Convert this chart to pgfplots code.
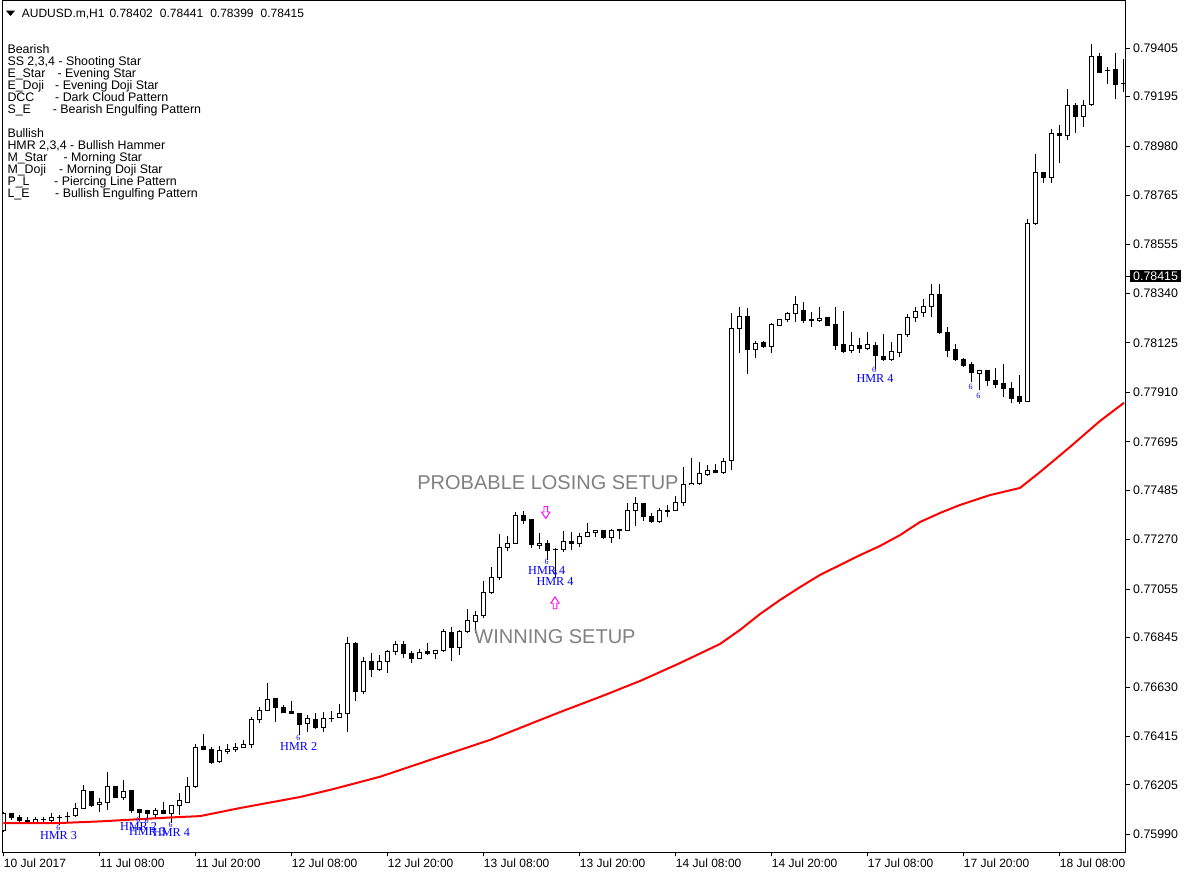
\documentclass[border=0pt]{standalone}
\usepackage{pgfplots}
\usepackage{pgfplotstable}
\pgfplotsset{compat=1.18}
\usepackage{fontspec}
\setmainfont{Liberation Sans}
\newfontfamily\serifhmr{Liberation Serif}
\definecolor{hmrblue}{RGB}{0,0,255}
\definecolor{arrpink}{RGB}{255,0,255}
\definecolor{setgray}{RGB}{128,128,128}
\definecolor{mared}{RGB}{255,0,0}

\pgfplotstableread{
x o h l c
0 0.76006 0.76087 0.76000 0.76079
1 0.76082 0.76082 0.76053 0.76065
2 0.76065 0.76075 0.76039 0.76050
3 0.76050 0.76065 0.76039 0.76040
4 0.76040 0.76065 0.76039 0.76056
5 0.76054 0.76065 0.76041 0.76056
6 0.76052 0.76082 0.76039 0.76065
7 0.76063 0.76075 0.76032 0.76065
8 0.76066 0.76089 0.76039 0.76068
9 0.76070 0.76125 0.76067 0.76103
10 0.76103 0.76205 0.76103 0.76180
11 0.76176 0.76179 0.76110 0.76115
12 0.76118 0.76146 0.76089 0.76127
13 0.76127 0.76262 0.76096 0.76197
14 0.76197 0.76200 0.76151 0.76151
15 0.76151 0.76226 0.76139 0.76176
16 0.76179 0.76179 0.76082 0.76093
17 0.76096 0.76099 0.76053 0.76084
18 0.76093 0.76093 0.76060 0.76079
19 0.76075 0.76103 0.76060 0.76092
20 0.76092 0.76132 0.76078 0.76079
21 0.76079 0.76113 0.76039 0.76113
22 0.76113 0.76169 0.76075 0.76136
23 0.76129 0.76240 0.76129 0.76197
24 0.76197 0.76383 0.76192 0.76369
25 0.76371 0.76425 0.76359 0.76359
26 0.76359 0.76371 0.76296 0.76301
27 0.76306 0.76374 0.76299 0.76352
28 0.76349 0.76382 0.76338 0.76360
29 0.76359 0.76386 0.76346 0.76369
30 0.76369 0.76400 0.76369 0.76379
31 0.76382 0.76501 0.76363 0.76487
32 0.76487 0.76544 0.76475 0.76530
33 0.76530 0.76646 0.76530 0.76577
34 0.76581 0.76584 0.76480 0.76542
35 0.76543 0.76552 0.76516 0.76518
36 0.76523 0.76569 0.76513 0.76516
37 0.76516 0.76518 0.76422 0.76468
38 0.76473 0.76509 0.76436 0.76494
39 0.76490 0.76516 0.76446 0.76453
40 0.76455 0.76523 0.76436 0.76494
41 0.76491 0.76526 0.76480 0.76494
42 0.76497 0.76555 0.76494 0.76516
43 0.76516 0.76848 0.76436 0.76817
44 0.76817 0.76827 0.76571 0.76610
45 0.76610 0.76760 0.76598 0.76740
46 0.76741 0.76779 0.76675 0.76707
47 0.76704 0.76769 0.76701 0.76740
48 0.76740 0.76790 0.76692 0.76783
49 0.76783 0.76829 0.76769 0.76815
50 0.76815 0.76829 0.76757 0.76776
51 0.76776 0.76787 0.76735 0.76754
52 0.76754 0.76793 0.76753 0.76780
53 0.76786 0.76823 0.76769 0.76774
54 0.76774 0.76790 0.76753 0.76789
55 0.76787 0.76884 0.76783 0.76870
56 0.76867 0.76889 0.76744 0.76802
57 0.76802 0.76877 0.76769 0.76873
58 0.76873 0.76967 0.76863 0.76917
59 0.76916 0.76959 0.76863 0.76940
60 0.76940 0.77090 0.76932 0.77041
61 0.77041 0.77150 0.77033 0.77107
62 0.77107 0.77294 0.77095 0.77237
63 0.77237 0.77287 0.77222 0.77254
64 0.77254 0.77391 0.77254 0.77375
65 0.77375 0.77394 0.77337 0.77352
66 0.77359 0.77362 0.77235 0.77250
67 0.77245 0.77300 0.77228 0.77254
68 0.77254 0.77268 0.77182 0.77222
69 0.77226 0.77232 0.77103 0.77229
70 0.77228 0.77308 0.77218 0.77261
71 0.77264 0.77305 0.77225 0.77254
72 0.77254 0.77298 0.77239 0.77283
73 0.77283 0.77341 0.77281 0.77302
74 0.77300 0.77309 0.77281 0.77308
75 0.77312 0.77312 0.77271 0.77279
76 0.77279 0.77315 0.77256 0.77312
77 0.77315 0.77315 0.77271 0.77309
78 0.77309 0.77428 0.77309 0.77395
79 0.77396 0.77454 0.77329 0.77428
80 0.77428 0.77430 0.77352 0.77369
81 0.77372 0.77385 0.77343 0.77348
82 0.77348 0.77406 0.77341 0.77395
83 0.77399 0.77421 0.77367 0.77393
84 0.77396 0.77459 0.77395 0.77432
85 0.77432 0.77587 0.77418 0.77508
86 0.77508 0.77623 0.77506 0.77515
87 0.77515 0.77606 0.77508 0.77558
88 0.77554 0.77595 0.77548 0.77569
89 0.77569 0.77598 0.77558 0.77560
90 0.77560 0.77623 0.77555 0.77609
91 0.77616 0.78254 0.77575 0.78189
92 0.78189 0.78280 0.78080 0.78239
93 0.78239 0.78275 0.77990 0.78098
94 0.78098 0.78134 0.78058 0.78124
95 0.78125 0.78134 0.78105 0.78109
96 0.78109 0.78211 0.78080 0.78204
97 0.78201 0.78229 0.78199 0.78225
98 0.78225 0.78261 0.78218 0.78254
99 0.78254 0.78329 0.78218 0.78294
100 0.78268 0.78302 0.78213 0.78222
101 0.78222 0.78258 0.78194 0.78225
102 0.78222 0.78280 0.78218 0.78232
103 0.78237 0.78239 0.78199 0.78201
104 0.78204 0.78280 0.78095 0.78114
105 0.78117 0.78264 0.78080 0.78088
106 0.78092 0.78174 0.78080 0.78115
107 0.78114 0.78145 0.78083 0.78101
108 0.78101 0.78174 0.78095 0.78120
109 0.78114 0.78131 0.78012 0.78071
110 0.78068 0.78164 0.78048 0.78054
111 0.78054 0.78131 0.78047 0.78088
112 0.78082 0.78164 0.78063 0.78163
113 0.78163 0.78250 0.78152 0.78237
114 0.78237 0.78280 0.78215 0.78261
115 0.78258 0.78314 0.78237 0.78285
116 0.78285 0.78380 0.78237 0.78337
117 0.78337 0.78380 0.78163 0.78171
118 0.78171 0.78194 0.78063 0.78092
119 0.78095 0.78121 0.78048 0.78054
120 0.78055 0.78058 0.78022 0.78027
121 0.78030 0.78041 0.77954 0.77996
122 0.77994 0.78004 0.77921 0.78004
123 0.78004 0.78004 0.77940 0.77961
124 0.77960 0.78015 0.77931 0.77943
125 0.77947 0.78034 0.77892 0.77927
126 0.77928 0.77954 0.77862 0.77884
127 0.77891 0.77987 0.77858 0.77869
128 0.77870 0.78662 0.77867 0.78645
129 0.78645 0.78946 0.78638 0.78866
130 0.78866 0.78866 0.78821 0.78845
131 0.78845 0.79054 0.78821 0.79036
132 0.79036 0.79072 0.78906 0.79026
133 0.79026 0.79228 0.79007 0.79156
134 0.79156 0.79168 0.79036 0.79108
135 0.79108 0.79180 0.79064 0.79156
136 0.79163 0.79423 0.79156 0.79368
137 0.79368 0.79387 0.79301 0.79301
138 0.79307 0.79325 0.79249 0.79309
139 0.79314 0.79387 0.79187 0.79249
140 0.79253 0.79361 0.79217 0.79251
}\candles

\pgfplotstableread{
x p
0 0.76038
7.09 0.76039
12.09 0.76046
16.21 0.76054
20.84 0.76063
24.59 0.76069
29.59 0.76104
37.09 0.76152
41.09 0.76185
47.09 0.76240
53.34 0.76313
60.84 0.76400
64.59 0.76452
69.59 0.76521
74.59 0.76587
79.59 0.76656
84.59 0.76734
89.59 0.76817
92.09 0.76878
94.59 0.76947
97.09 0.77008
99.59 0.77064
102.09 0.77117
104.59 0.77160
107.09 0.77203
109.59 0.77243
112.09 0.77290
114.59 0.77347
117.09 0.77386
119.59 0.77421
123.34 0.77464
127.09 0.77495
129.59 0.77564
133.34 0.77673
137.09 0.77786
140.09 0.77865
}\ma

\begin{document}
\begin{tikzpicture}[x=1pt,y=1pt]
\useasboundingbox (0,0) rectangle (1186,876);
\begin{axis}[
  at={(2.5pt,24pt)}, anchor=south west,
  scale only axis, width=1123.5pt, height=851pt,
  xmin=-0.1, xmax=140.34,
  ymin=0.75913, ymax=0.79611,
  axis line style={line width=1pt, black},
  tick align=outside,
  xtick pos=left, ytick pos=right,
  xticklabel pos=left, yticklabel pos=right,
  major tick length=4pt,
  tick style={line width=1pt, black},
  xtick={0,12,24,36,48,60,72,84,96,108,120,132},
  xticklabels={10 Jul 2017, 11 Jul 08:00, 11 Jul 20:00, 12 Jul 08:00, 12 Jul 20:00, 13 Jul 08:00, 13 Jul 20:00, 14 Jul 08:00, 14 Jul 20:00, 17 Jul 08:00, 17 Jul 20:00, 18 Jul 08:00},
  ytick={0.79405,0.79195,0.78980,0.78765,0.78555,0.78340,0.78125,0.77910,0.77695,0.77485,0.77270,0.77055,0.76845,0.76630,0.76415,0.76205,0.75990},
  yticklabels={0.79405,0.79195,0.78980,0.78765,0.78555,0.78340,0.78125,0.77910,0.77695,0.77485,0.77270,0.77055,0.76845,0.76630,0.76415,0.76205,0.75990},
  extra y ticks={0.78415},
  extra y tick labels={0.78415},
  extra y tick style={yticklabel style={fill=black, text=white}},
  scaled y ticks=false,
  xticklabel style={anchor=north west, inner xsep=0.5pt, inner ysep=3pt, font=\fontsize{12}{14}\selectfont},
  yticklabel style={anchor=west, inner xsep=3pt, inner ysep=1.4pt, font=\fontsize{12.4}{14}\selectfont},
]
% wicks
\addplot[draw=none, mark=none, forget plot,
  error bars/.cd, y dir=plus, y explicit, error mark=none,
  error bar style={draw=black, line width=1pt}]
  table[x=x, y=l, y error plus expr={\thisrow{h}-\thisrow{l}}] {\candles};
% bodies (black outer)
\addplot[draw=none, mark=none, forget plot,
  error bars/.cd, y dir=plus, y explicit, error mark=none,
  error bar style={draw=black, line width=4.6pt, line cap=butt}]
  table[x=x, y expr={min(\thisrow{o},\thisrow{c})-0.0000217},
        y error plus expr={abs(\thisrow{c}-\thisrow{o})+0.0000434}] {\candles};
% white interior of bullish bodies
\addplot[draw=none, mark=none, forget plot,
  error bars/.cd, y dir=plus, y explicit, error mark=none,
  error bar style={draw=white, line width=2.6pt, line cap=butt}]
  table[x=x, y expr={\thisrow{o}+0.0000217},
        y error plus expr={max(0,\thisrow{c}-\thisrow{o}-0.0000434)}] {\candles};
% moving average
\addplot[mared, line width=2pt, mark=none] table[x=x, y=p] {\ma};
\end{axis}

% title
\fill[black] (6,865.3) -- (15,865.3) -- (10.5,860) -- cycle;
\begin{scope}[every node/.style={inner sep=0pt, anchor=base west, font=\fontsize{12}{14}\selectfont}]
\node at (21.7,858.7) {AUDUSD.m,H1};
\node at (109.3,858.7) {0.78402};
\node at (159.7,858.7) {0.78441};
\node at (210.1,858.7) {0.78399};
\node at (260.5,858.7) {0.78415};
\end{scope}

% legend text
\begin{scope}[every node/.style={inner sep=0pt, anchor=base west, font=\fontsize{12.4}{14}\selectfont}]
\node at (7.3,822) {Bearish};
\node at (7.3,810) {SS 2,3,4 - Shooting Star};
\node at (7.3,798) {E\_Star};   \node at (57.3,798) {- Evening Star};
\node at (7.3,786) {E\_Doji};   \node at (55,786) {- Evening Doji Star};
\node at (7.3,774) {DCC};       \node at (55,774) {- Dark Cloud Pattern};
\node at (7.3,762) {S\_E};      \node at (52.7,762) {- Bearish Engulfing Pattern};
\node at (7.3,738) {Bullish};
\node at (7.3,726) {HMR 2,3,4 - Bullish Hammer};
\node at (7.3,714) {M\_Star};   \node at (63.3,714) {- Morning Star};
\node at (7.3,702) {M\_Doji};   \node at (59,702) {- Morning Doji Star};
\node at (7.3,690) {P\_L};      \node at (54,690) {- Piercing Line Pattern};
\node at (7.3,678) {L\_E};      \node at (55,678) {- Bullish Engulfing Pattern};
\end{scope}

% setup texts
\node[setgray, font=\fontsize{20}{22}\selectfont, inner sep=0pt] at (548,393) {PROBABLE LOSING SETUP};
\node[setgray, font=\fontsize{20}{22}\selectfont, inner sep=0pt] at (555,239) {WINNING SETUP};

% arrows
\draw[arrpink, line width=0.9pt] (544,369.5) -- (547.6,369.5) -- (547.6,364) -- (550,364) -- (545.8,357.5) -- (541.6,364) -- (544,364) -- cycle;
\draw[arrpink, line width=0.9pt] (553.2,267.2) -- (556.8,267.2) -- (556.8,272.7) -- (559.2,272.7) -- (555,279.2) -- (550.8,272.7) -- (553.2,272.7) -- cycle;

% HMR labels
\begin{scope}[every node/.style={inner sep=0pt, text=hmrblue, font=\serifhmr\fontsize{12.2}{14}\selectfont}]
\node at (58.5,40.7) {HMR 3};
\node at (138.5,49.3) {HMR 2};
\node at (147.5,44) {HMR 3};
\node at (171.5,43.7) {HMR 4};
\node at (298.7,129.8) {HMR 2};
\node at (546.7,306) {HMR 4};
\node at (555,294.3) {HMR 4};
\node at (875,497.7) {HMR 4};
\end{scope}
\begin{scope}[every node/.style={inner sep=0pt, text=hmrblue, font=\serifhmr\fontsize{8}{9}\selectfont}]
\node at (58.3,47.7) {6};
\node at (138.3,56) {6};
\node at (146.7,55) {6};
\node at (170.7,51) {6};
\node at (298.3,137.7) {6};
\node at (546.7,314.3) {6};
\node at (555,302.7) {6};
\node at (874,506) {6};
\node at (970.7,488.7) {6};
\node at (978.3,480) {6};
\end{scope}
\end{tikzpicture}
\end{document}
